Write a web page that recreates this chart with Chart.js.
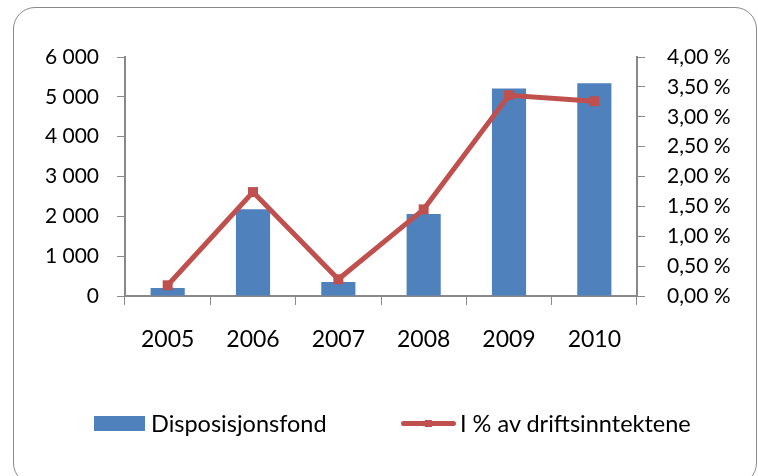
<!DOCTYPE html>
<html>
<head>
<meta charset="utf-8">
<script src="https://cdn.jsdelivr.net/npm/chart.js@4.4.1/dist/chart.umd.min.js"></script>
<style>
  body { margin: 0; background: #fff; }
  #wrap { position: relative; width: 758px; height: 476px; overflow: hidden; }
  #frame { position: absolute; left: 13px; top: 7px; width: 744px; height: 478px;
           border: 1.5px solid #8a8a8a; border-radius: 22px; box-sizing: border-box; }
  canvas { position: absolute; left: 0; top: 0; }
  .leg { position: absolute; top: 409px; font-family: Lato, sans-serif; font-size: 23.5px; color: #000; line-height: 28px; }
  .box { position: absolute; left: 94px; top: 416px; width: 51px; height: 15px; background: #4F81BD; }
  .ln { position: absolute; left: 401px; top: 421px; width: 55px; height: 5px; background: #C0504D; border-radius: 3px; }
  .mk { position: absolute; left: 425px; top: 420px; width: 7px; height: 7px; background: #C0504D; }
</style>
</head>
<body>
<div id="wrap">
  <div id="frame"></div>
  <canvas id="myChart" width="758" height="476"></canvas>
  <div class="box"></div>
  <div class="leg" style="left:151px">Disposisjonsfond</div>
  <div class="ln"></div><div class="mk"></div>
  <div class="leg" style="left:460px">I % av driftsinntektene</div>
</div>
<script>
// Data
const years = ["2005", "2006", "2007", "2008", "2009", "2010"];
const fondValues = [200, 2180, 350, 2060, 5210, 5340];
const prosentValues = [0.18, 1.74, 0.28, 1.45, 3.36, 3.26];

const grey = "#898989";

function nok(v) {
  return v.toString().replace(/\B(?=(\d{3})+(?!\d))/g, " ");
}

new Chart("myChart", {
  type: "bar",
  data: {
    labels: years,
    datasets: [{
      type: "line",
      label: "I % av driftsinntektene",
      data: prosentValues,
      yAxisID: "y1",
      borderColor: "#C0504D",
      backgroundColor: "#C0504D",
      borderWidth: 5,
      pointStyle: "rect",
      pointRadius: 3.5,
      tension: 0,
      order: 0
    }, {
      label: "Disposisjonsfond",
      data: fondValues,
      yAxisID: "y",
      backgroundColor: "#4F81BD",
      barPercentage: 0.4,
      categoryPercentage: 1,
      order: 1
    }]
  },
  options: {
    responsive: false,
    animation: false,
    layout: { padding: { top: 57, left: 0, right: 0, bottom: 0 } },
    plugins: { legend: { display: false }, tooltip: { enabled: false } },
    scales: {
      x: {
        offset: true,
        grid: { display: true, drawOnChartArea: false, color: grey, tickLength: 9, offset: true },
        border: { color: grey, width: 2 },
        ticks: { color: "#000", font: { family: "Lato", size: 23 }, padding: 21 },
        afterFit: s => { s.height = 180; }
      },
      y: {
        position: "left",
        min: 0, max: 6000,
        ticks: { stepSize: 1000, color: "#000", font: { family: "Lato", size: 21 }, padding: 18, callback: v => nok(v) },
        grid: { drawOnChartArea: false, color: grey, tickLength: 8 },
        border: { color: grey, width: 2 },
        afterFit: s => { s.width = 125; }
      },
      y1: {
        position: "right",
        min: 0, max: 4,
        ticks: { stepSize: 0.5, color: "#000", font: { family: "Lato", size: 21 }, padding: 22,
                 callback: v => v.toFixed(2).replace(".", ",") + " %" },
        grid: { drawOnChartArea: false, color: grey, tickLength: 8 },
        border: { color: grey, width: 2 },
        afterFit: s => { s.width = 121; }
      }
    }
  }
});
</script>
</body>
</html>
